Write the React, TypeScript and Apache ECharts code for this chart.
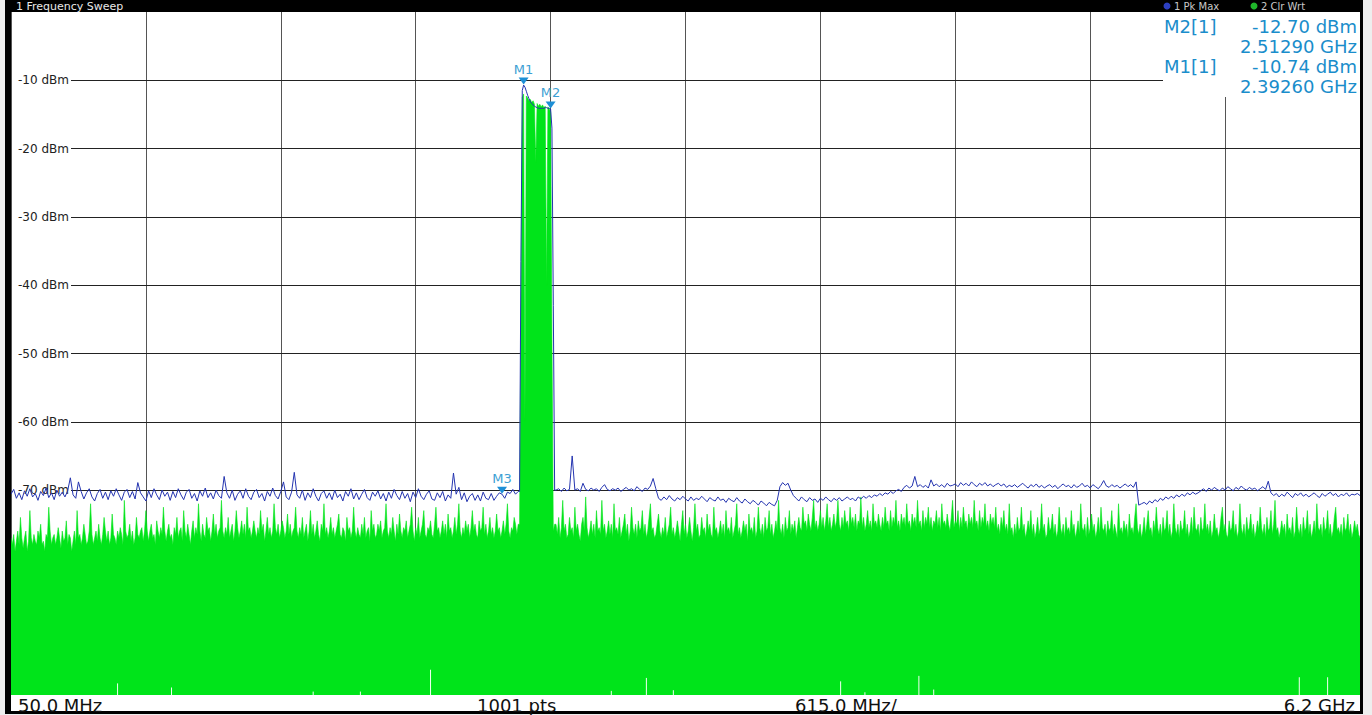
import React, { useEffect, useRef } from 'react';
import * as echarts from 'echarts';

const FONT = '"DejaVu Sans", Verdana, sans-serif';

// X axis = sweep point index: 1001 pts, 50 MHz .. 6.2 GHz, 615 MHz/div = 100 pts/div
const sweepMax = 1000;
const pointsPerDiv = 100;
const leftEnd = 376;
const signalStart = 377;
const rightStart = 404;
const gridRows = [-10, -20, -30, -40, -50, -60, -70, -80, -90];
const labelRows = [-10, -20, -30, -40, -50, -60, -70];
const gridLineStart = 44.5; // grid rows start right after the level labels

const titleText = '1 Frequency Sweep';
const traceLegend = ['1 Pk Max', '2 Clr Wrt'];
const bottomStart = '50.0 MHz';
const bottomPts = '1001 pts';
const bottomSpan = '615.0 MHz/';
const bottomStop = '6.2 GHz';

const readoutNames = ['M2[1]', 'M1[1]'];
const readoutLevels = ['-12.70 dBm', '-10.74 dBm'];
const readoutFreqs = ['2.51290 GHz', '2.39260 GHz'];

const markerNames = ['M1', 'M2', 'M3'];
const markerIdx = [380, 400, 364];

// Trace 1 (Pk Max, blue): points 0..376 step 2
const blueLeft = [
  -70.6,-69.9,-71.2,-70.4,-71.4,-70.1,-70.9,-69.8,-71.0,-70.5,-71.5,-70.2,-70.8,-69.7,-71.1,-70.4,-71.4,-70.0,-70.9,-70.3,
  -71.0,-70.1,-68.2,-70.7,-71.2,-68.8,-70.2,-71.3,-70.4,-69.8,-71.0,-71.6,-70.5,-69.9,-71.2,-70.3,-71.4,-70.1,-70.9,-69.8,
  -70.7,-71.5,-70.3,-69.9,-71.1,-70.2,-71.3,-68.9,-70.4,-71.0,-71.6,-70.1,-71.1,-69.8,-70.7,-71.4,-70.0,-70.9,-70.3,-71.5,
  -70.2,-71.1,-69.8,-70.7,-71.4,-70.3,-69.9,-71.2,-70.5,-71.6,-70.1,-70.9,-69.7,-71.1,-70.4,-71.3,-70.0,-70.8,-71.2,-68.0,
  -70.4,-71.2,-70.0,-71.5,-70.6,-70.1,-71.2,-69.8,-70.9,-71.4,-70.3,-69.9,-71.1,-70.5,-71.6,-70.2,-70.9,-69.7,-70.8,-71.3,
  -70.2,-68.8,-71.0,-71.4,-70.3,-67.4,-70.7,-71.2,-70.0,-71.5,-70.4,-71.1,-69.8,-70.9,-71.6,-70.5,-70.1,-71.2,-70.4,-71.4,
  -70.0,-71.1,-70.6,-71.6,-70.2,-70.9,-69.8,-71.3,-70.4,-71.4,-70.6,-69.9,-71.1,-71.5,-70.3,-70.9,-70.1,-71.3,-70.5,-71.6,
  -70.3,-71.2,-69.9,-70.8,-71.4,-70.2,-71.2,-70.5,-71.7,-70.3,-71.1,-69.8,-70.9,-71.4,-70.6,-70.1,-71.3,-71.5,-70.4,-71.1,
  -70.2,-71.6,-70.7,-71.2,-67.5,-70.6,-69.6,-71.4,-70.4,-71.7,-70.9,-70.5,-71.5,-70.7,-71.6,-70.3,-71.2,-71.4,-70.5,-71.5,
  -70.9,-70.4,-70.6,-71.2,-70.3,-70.5,-69.9,-70.6,-70.2,
];
// points 377..403 step 1 (carrier)
const blueSignal = [
  -70.2,-36.5,-11.5,-10.7,-11.0,-11.6,-12.2,-12.7,-13.1,-13.4,-13.6,-13.8,-13.9,-14.0,
  -14.1,-14.1,-14.1,-14.1,-14.1,-14.0,-14.0,-14.1,-14.1,-14.2,-17.0,-43.0,-70.0,
];
// points 404..1000 step 2
const blueRight = [
  -70.0,-69.8,-70.2,-69.7,-70.1,-69.9,-65.0,-70.0,-69.8,-70.2,-69.0,-69.9,-70.1,-69.7,-70.0,-69.8,-70.2,-69.6,-69.2,-69.9,
  -70.1,-69.8,-70.0,-69.7,-70.2,-69.9,-69.6,-70.0,-69.8,-70.1,-69.5,-69.9,-70.2,-69.7,-69.9,-69.4,-68.3,-69.8,
  -71.2,-71.5,-71.0,-71.4,-70.8,-71.3,-71.6,-71.1,-71.4,-70.9,-71.3,-71.6,-71.0,-71.5,-71.2,-71.4,-70.9,-71.3,-71.7,-71.1,
  -71.4,-71.6,-71.0,-71.5,-71.3,-71.8,-71.2,-71.5,-71.7,-71.1,-71.6,-71.9,-71.3,-71.7,-72.0,-71.5,-71.8,-72.2,-71.6,-71.9,-72.3,-71.8,-72.1,
  -72.3,-71.5,-69.5,-68.9,-69.3,-69.0,-70.0,-70.8,
  -71.2,-71.6,-71.0,-71.4,-71.7,-71.1,-71.5,-71.3,-71.8,-71.2,-71.5,-71.0,-71.4,-71.7,-71.2,-71.5,-71.1,-71.6,-71.3,-71.0,
  -71.4,-71.2,-71.6,-71.0,-71.3,-70.9,-71.2,-70.8,-71.1,-70.7,
  -70.9,-70.5,-70.8,-70.4,-70.6,-70.2,-70.5,-70.1,-69.9,-70.2,
  -69.6,-69.3,-69.7,-69.4,-68.0,-69.5,-69.2,-69.6,-69.3,-69.7,-68.5,-69.4,-69.1,-69.5,-69.2,-69.6,-69.0,-69.4,-69.3,-69.1,
  -69.5,-68.9,-69.3,-69.0,-69.4,-68.8,-69.2,-69.5,-69.0,-69.3,-68.9,-69.4,-69.1,-69.5,-69.2,-69.0,-69.4,-69.1,-69.6,-69.3,
  -69.5,-69.2,-69.6,-69.3,-69.0,-69.4,-69.7,-69.2,-69.5,-69.1,-69.6,-69.3,-69.7,-69.4,-69.2,-69.6,-69.3,-69.8,-69.4,-69.1,
  -69.5,-69.3,-69.7,-69.2,-69.6,-69.4,-69.0,-69.5,-69.3,-69.7,-69.2,-69.5,-69.8,-69.3,-68.6,-69.4,-69.6,-69.2,-69.5,-69.3,
  -69.7,-69.4,-69.1,-69.5,-69.2,-69.6,-68.8,
  -72.2,-72.0,-71.8,-72.1,-71.6,-71.9,-71.4,-71.7,-71.2,-71.5,-71.0,-71.3,-70.9,-71.2,-70.7,-71.0,-70.6,-70.9,-70.4,-70.7,
  -70.3,-70.6,-70.4,
  -70.1,-69.8,-70.2,-69.7,-70.0,-69.6,-69.9,-70.1,-69.7,-70.0,-69.5,-69.8,-70.1,-69.6,-69.9,-69.4,-69.8,-70.0,-69.6,-69.9,
  -69.7,-70.1,-69.8,-69.5,-69.9,
  -68.7,
  -70.4,-70.8,-70.5,-71.0,-70.6,-70.9,-70.3,-70.7,-71.1,-70.5,-70.8,-70.4,-70.9,-70.6,-71.0,-70.7,-70.4,-70.8,-71.1,-70.5,
  -70.9,-70.6,-70.3,-70.8,-70.5,-71.0,-70.6,-70.8,-70.4,-70.9,-70.6,-70.7,-70.5,-70.8,
];

// Trace 2 (Clr Wrt, green fill): points 0..376 step 1
const greenLeft = [
  -77,-78,-76.5,-79,-77.5,-76,-78,-74,-77,-78.5,-77,-76,-79,-77.5,-73,-77,-78,-76.5,-77.5,-78,
  -76,-77,-75,-78,-77.5,-79,-76.5,-77,-72.5,-76,-78,-77,-76.5,-78,-77,-75.5,-77,-78.5,-76,-77.5,
  -77,-74.5,-78,-76.5,-77,-79,-77.5,-76,-78,-73,-77,-76.5,-78,-77,-75,-76.5,-78,-77.5,-76,-72,
  -76.5,-78,-77,-76,-77.5,-75,-77,-78,-76.5,-74,-76,-77.5,-76,-78,-77,-73.5,-76.5,-77,-78,-76,
  -77,-75.5,-76.5,-78,-71.5,-76,-77,-76.5,-75,-77.5,-76,-78,-77,-74,-76.5,-77,-76,-75.5,-77.5,-76,
  -73,-76,-77.5,-76,-75,-77,-76.5,-78,-74.5,-76,-77,-75.5,-76.5,-72.5,-76,-77.5,-76,-75,-77,-76.5,
  -78,-75.5,-76.5,-74,-77,-76,-75.5,-77.5,-73,-76,-77,-75,-76.5,-78,-76,-74.5,-77,-75.5,-76.5,-72,
  -76,-77.5,-75,-76.5,-77,-74,-76,-75.5,-77.5,-76,-73.5,-76.5,-75,-77,-76,-75.5,-71.5,-76,-77,-75.5,
  -76.5,-74,-77,-76,-75,-77.5,-76,-73,-75.5,-77,-76,-74.5,-76.5,-75,-77,-72.5,-76,-75.5,-77,-76,
  -74.5,-76,-77,-75.5,-76.5,-73,-76,-75,-77.5,-76,-74,-76.5,-75.5,-77,-76,-72,-75.5,-76.5,-75,-77,
  -76,-74.5,-75.5,-77,-76,-73.5,-76.5,-75,-77,-76,-75.5,-72.5,-76,-77,-75.5,-76.5,-74,-77,-76,-75,
  -77.5,-76,-73,-76.5,-75,-77,-76,-74.5,-76.5,-77.5,-75,-76,-72,-76.5,-75.5,-77,-76,-74,-76.5,-75.5,
  -77,-76,-75,-73.5,-76.5,-77,-75.5,-76,-77.5,-74,-76,-75.5,-77,-76,-72.5,-76,-77,-75.5,-76.5,-77,
  -75,-76.5,-74,-77,-76,-75.5,-77.5,-73,-76,-75,-77,-76.5,-75,-76,-74.5,-77,-76,-75.5,-72,-76,
  -77,-75.5,-76.5,-74,-76,-77.5,-75,-76.5,-73.5,-76,-77,-75.5,-76,-74.5,-77,-76,-75,-72.5,-76,-77.5,
  -75.5,-76.5,-74,-77,-76,-75,-73,-76.5,-77,-75.5,-76,-74.5,-76.5,-77,-75,-72.5,-76,-75.5,-77,-76,
  -74.5,-76.5,-75,-77,-73.5,-76,-75.5,-77,-76,-74,-76.5,-75,-72,-76,-77,-75.5,-76.5,-74.5,-76,-75,
  -77,-75.5,-73,-76,-75,-76.5,-77,-74.5,-76,-75.5,-72.5,-76.5,-75,-77,-76,-74,-76.5,-75.5,-77,-76,
  -73.5,-76,-75.5,-77,-76,-74.5,-76.5,-75,-72,-76,-77,-75.5,-76,-74,-75,-76.5,-75,
];
// points 377..403 step 1 (carrier)
const greenSignal = [
  -75,-44,-12.5,-12.0,-60,-12.3,-12.6,-13.0,-12.8,-13.3,-13.0,-13.5,-22,-13.4,
  -13.8,-13.5,-13.9,-13.6,-14.0,-13.8,-40,-13.9,-14.2,-14.6,-48,-76,-75,
];
// points 404..1000 step 1
const greenRight = [
  -75,-76.5,-74,-77,-75.5,-71.5,-76,-75,-77,-76.5,-74,-76,-75.5,-77,-72.5,-76,-75,-76.5,-77.5,-75,
  -74,-76,-71,-75.5,-77,-76,-74.5,-76.5,-75,-77,-73,-76,-75.5,-76.5,-71.5,-76,-75,-77,-76,-74.5,
  -76.5,-75,-77,-72,-76,-75.5,-76.5,-74,-77,-76,-75,-73.5,-76.5,-75,-77.5,-76,-72.5,-75.5,-76.5,-75,
  -77,-74.5,-76,-75.5,-73,-76.5,-75,-77,-76,-74,-72,-76,-75.5,-77,-76.5,-75,-73.5,-76,-77,-75.5,
  -76.5,-74,-77,-76,-75,-72.5,-76.5,-75.5,-77,-76,-74.5,-76,-77.5,-75,-73,-76.5,-75,-77,-76,-74,
  -76,-77.5,-75.5,-72,-76,-75,-77,-76.5,-74,-76,-75.5,-77,-73.5,-76,-75,-76.5,-77,-72.5,-76,-75.5,
  -77,-76,-74.5,-76.5,-75,-77,-73,-76,-75.5,-76.5,-74,-77,-76,-75,-72,-76.5,-75.5,-77,-76,-74.5,
  -76,-75,-77.5,-73.5,-76,-75.5,-76.5,-74,-77,-76,-72.5,-75.5,-76.5,-75,-77,-74,-76,-75.5,-73,-76.5,
  -75,-77,-76,-74.5,-76,-71.5,-75.5,-76.5,-75,-77,-74,-76,-75.5,-73,-76.5,-75,-76,-74.5,-77,-75.5,
  -74,-75.5,-76,-72.5,-75,-74.5,-76,-73.5,-75,-76,-74,-71.5,-75.5,-74.5,-76,-75,-73,-75.5,-74,-76,
  -74.5,-72,-75.5,-74,-76,-75,-73.5,-75.5,-74.5,-71.5,-75,-76,-74,-75.5,-73,-75,-74.5,-76,-72.5,-75,
  -74,-75.5,-73.5,-76,-74.5,-75,-71,-75.5,-74,-76,-75,-73,-75.5,-74.5,-76,-72,-75,-74.5,-75.5,-73.5,
  -75,-76,-74,-75.5,-72.5,-75,-74.5,-76,-73,-75.5,-74,-75,-71.5,-75.5,-74.5,-76,-73.5,-75,-74,-75.5,
  -72,-75,-74.5,-76,-73.5,-75,-74,-75.5,-71.5,-75,-74.5,-76,-73,-75.5,-74,-75,-72.5,-75.5,-74,-76,
  -74.5,-75,-73,-75.5,-74,-76,-72,-75,-74.5,-75.5,-73.5,-75,-76,-74,-71.5,-75.5,-74.5,-75,-73,-76,
  -74,-75.5,-72.5,-75,-74.5,-76,-73.5,-75,-74,-75.5,-71.5,-75,-74.5,-76,-73,-75.5,-74,-75,-72,-75.5,
  -74.5,-76,-73.5,-75,-74,-75.5,-72.5,-76,-75,-76.5,-74,-75.5,-73,-76,-75,-76.5,-72,-76,-75.5,-77,
  -75,-76.5,-74,-76,-75.5,-72.5,-76,-75,-77,-76,-74.5,-76,-73,-76.5,-75,-77,-76,-74,-76.5,-75.5,
  -72,-76,-75,-77,-76.5,-74,-76,-75.5,-73.5,-76.5,-75,-77,-76,-72.5,-75.5,-76.5,-75,-77,-74,-76,
  -75.5,-76.5,-73,-76,-75,-77,-76,-74.5,-76.5,-72,-75.5,-76,-75,-77,-74,-76.5,-75.5,-73.5,-76,-75,
  -77,-76,-74,-76.5,-72.5,-75.5,-76,-75,-77,-74.5,-76,-75.5,-73,-76.5,-75,-76,-77,-72,-76,-75.5,
  -76.5,-74.5,-76,-75,-77,-73.5,-76,-75.5,-76.5,-74,-72,-75.5,-76.5,-75,-77,-76,-74,-76.5,-75,-73,
  -76,-75.5,-77,-74.5,-76,-72.5,-75.5,-76.5,-75,-77,-74,-76,-75.5,-73,-76.5,-75,-77,-76,-72,-75.5,
  -76.5,-75,-77,-74.5,-76,-75.5,-73,-76.5,-75,-77,-76,-74,-76.5,-72.5,-75.5,-76,-75,-77,-74,-76,
  -75.5,-72,-76,-75,-76.5,-74.5,-77,-76,-73.5,-76,-75.5,-77,-76,-74,-72.5,-76,-75,-76.5,-77,-74.5,
  -76,-75.5,-73,-76.5,-75,-77,-76,-72,-75.5,-76.5,-75,-77,-74,-76,-75.5,-73.5,-76.5,-75,-77,-76,
  -74.5,-76,-72.5,-75.5,-76.5,-75,-77,-74,-76,-75.5,-73,-76.5,-75,-71.5,-76,-75.5,-77,-76,-74.5,-76,
  -75,-77,-73.5,-76,-75.5,-76.5,-74,-77,-76,-72.5,-75.5,-76.5,-75,-77,-74,-76,-75.5,-73,-76.5,-75,
  -77,-76,-74.5,-76.5,-72,-75.5,-76,-75,-77,-74,-76,-75.5,-73,-76.5,-75,-77,-76,-74,-72.5,-76,
  -75.5,-76.5,-75,-77,-74,-76,-75.5,-73.5,-76.5,-75,-77,-76,-74.5,-76,-75,-76.5,-77,
];

// Single sweep points where the green trace leaves a gap above the bottom edge
const gapIdx = [79, 119, 224, 259, 311, 445, 471, 491, 615, 633, 673, 684, 955, 976];
const gapTop = [-98.3, -98.9, -99.5, -99.5, -96.3, -99.4, -97.5, -99.3, -98.0, -99.6, -97.2, -99.2, -97.4, -97.4];

function buildTrace(left: number[], signal: number[], right: number[]) {
  const pts: number[][] = [];
  const lStep = leftEnd / (left.length - 1);
  left.forEach((v, i) => pts.push([i * lStep, v]));
  signal.forEach((v, i) => pts.push([signalStart + i, v]));
  const rStep = (sweepMax - rightStart) / (right.length - 1);
  right.forEach((v, i) => pts.push([rightStart + i * rStep, v]));
  return pts;
}

export default function App() {
  const ref = useRef<HTMLDivElement>(null);

  useEffect(() => {
    if (!ref.current) return;
    const chart = echarts.init(ref.current, undefined, { renderer: 'svg' });
    const blue = buildTrace(blueLeft, blueSignal, blueRight);
    const green = buildTrace(greenLeft, greenSignal, greenRight);
    const gaps = gapIdx.map((x, i) => [x, gapTop[i]]);

    const markerData = markerNames.map((name, i) => {
      let best = blue[0];
      blue.forEach((p) => {
        if (Math.abs(p[0] - markerIdx[i]) < Math.abs(best[0] - markerIdx[i])) best = p;
      });
      return { name, coord: [best[0], best[1]] };
    });

    const mkText = (text: string, x: number, y: number, opts: any = {}) => ({
      type: 'text',
      x,
      y,
      z: 60,
      silent: true,
      style: {
        text,
        fill: opts.fill || '#111',
        fontSize: opts.fontSize || 18,
        fontFamily: FONT,
        fontWeight: opts.fontWeight || 'normal',
        align: opts.align || 'left',
        verticalAlign: opts.verticalAlign || 'middle',
      },
    });

    const readoutColor = '#1a8dcb';
    const graphic: any[] = [
      { type: 'rect', z: -10, silent: true, shape: { x: 11, y: 12, width: 1349, height: 699 }, style: { fill: '#ffffff' } },
      // marker readout box
      { type: 'rect', z: 40, silent: true, shape: { x: 1163, y: 12, width: 197, height: 85 }, style: { fill: '#ffffff' } },
      // frame
      { type: 'rect', z: 50, silent: true, shape: { x: 5, y: 0, width: 1358, height: 12 }, style: { fill: '#000' } },
      { type: 'rect', z: 50, silent: true, shape: { x: 5, y: 0, width: 6, height: 714 }, style: { fill: '#000' } },
      { type: 'rect', z: 50, silent: true, shape: { x: 1360, y: 0, width: 3, height: 714 }, style: { fill: '#000' } },
      { type: 'rect', z: 50, silent: true, shape: { x: 5, y: 711, width: 1358, height: 3 }, style: { fill: '#000' } },
      mkText(titleText, 16, 6, { fill: '#e8e8e8', fontSize: 11 }),
      { type: 'circle', z: 60, silent: true, shape: { cx: 1167, cy: 6, r: 3.5 }, style: { fill: '#2c3fc0' } },
      mkText(traceLegend[0], 1174, 6, { fill: '#c8c8c8', fontSize: 10 }),
      { type: 'circle', z: 60, silent: true, shape: { cx: 1254, cy: 6, r: 3.5 }, style: { fill: '#1fb52a' } },
      mkText(traceLegend[1], 1261, 6, { fill: '#c8c8c8', fontSize: 10 }),
      mkText(bottomStart, 18, 705),
      mkText(bottomPts, 477, 705),
      mkText(bottomSpan, 795, 705),
      mkText(bottomStop, 1355, 705, { align: 'right' }),
    ];
    readoutNames.forEach((n, i) => {
      const y0 = 26 + i * 40;
      graphic.push(mkText(n, 1164, y0, { fill: readoutColor }));
      graphic.push(mkText(readoutLevels[i], 1357, y0, { fill: readoutColor, align: 'right' }));
      graphic.push(mkText(readoutFreqs[i], 1357, y0 + 20, { fill: readoutColor, align: 'right' }));
    });

    chart.setOption({
      animation: false,
      backgroundColor: '#eeeeee',
      grid: { left: 11, top: 12, width: 1349, height: 683, outerBoundsMode: 'none', containLabel: false },
      xAxis: {
        type: 'value',
        min: 0,
        max: sweepMax,
        interval: pointsPerDiv,
        axisLine: { show: false },
        axisTick: { show: false },
        axisLabel: { show: false },
        splitLine: { show: true, lineStyle: { color: '#555555', width: 1 } },
      },
      yAxis: {
        type: 'value',
        min: -100,
        max: 0,
        interval: 10,
        axisLine: { show: false },
        axisTick: { show: false },
        splitLine: { show: false },
        axisLabel: {
          inside: true,
          margin: 7,
          fontFamily: FONT,
          fontSize: 12,
          color: '#222',
          formatter: (v: number) => (labelRows.includes(v) ? `${v} dBm` : ''),
        },
      },
      graphic,
      series: [
        {
          type: 'line',
          name: 'grid',
          data: [],
          z: 1,
          silent: true,
          markLine: {
            z: 1,
            silent: true,
            symbol: ['none', 'none'],
            label: { show: false },
            lineStyle: { color: '#222', width: 1, type: 'solid' },
            data: gridRows.map((v) => [{ coord: [gridLineStart, v] }, { coord: [sweepMax, v] }]),
          },
        },
        {
          type: 'line',
          name: '2 Clr Wrt',
          data: green,
          z: 2,
          symbol: 'none',
          silent: true,
          lineStyle: { width: 0.6, color: '#00e41a' },
          areaStyle: { color: '#00e41a', opacity: 1, origin: 'start' },
        },
        {
          type: 'custom',
          name: 'gaps',
          data: gaps,
          z: 3,
          silent: true,
          renderItem: (params: any, api: any) => {
            const top = api.coord([api.value(0), api.value(1)]);
            const bot = api.coord([api.value(0), -100]);
            return {
              type: 'line',
              shape: { x1: top[0], y1: top[1], x2: bot[0], y2: bot[1] },
              style: { stroke: '#f4fff4', lineWidth: 1 },
            };
          },
        },
        {
          type: 'line',
          name: '1 Pk Max',
          data: blue,
          z: 4,
          symbol: 'none',
          silent: true,
          lineStyle: { width: 1, color: '#2434b0' },
          markPoint: {
            silent: true,
            symbol: 'triangle',
            symbolSize: [10, 7],
            symbolRotate: 180,
            symbolOffset: [0, -4],
            itemStyle: { color: '#1e8fd6' },
            label: {
              show: true,
              position: 'top',
              distance: 2,
              formatter: '{b}',
              color: '#3c9fd4',
              fontSize: 13,
              fontFamily: FONT,
            },
            data: markerData,
          },
        },
      ],
    });
    return () => chart.dispose();
  }, []);

  return (
    <div style={{ position: 'absolute', left: 0, top: 0, width: 1372, height: 715 }}>
      <div ref={ref} style={{ width: 1372, height: 715 }} />
    </div>
  );
}
